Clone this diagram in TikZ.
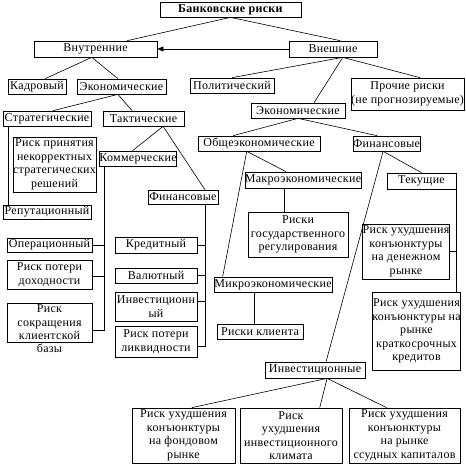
\documentclass[tikz,border=0pt]{standalone}
\usepackage{fontspec}
\setmainfont{Liberation Serif}[LetterSpace=2.5]
\usetikzlibrary{calc,arrows.meta}
\begin{document}
\begin{tikzpicture}[x=1pt,y=-1pt,
  bx/.style={draw, line width=0.7pt, inner sep=0pt, align=center, font=\fontsize{12}{13.5}\selectfont},
  sz/.style 2 args={minimum width=#1pt, minimum height=#2pt},
  ln/.style={line width=0.6pt}]
\useasboundingbox (0,0) rectangle (466,469);
\fill[white] (0,0) rectangle (466,469);
% nodes
\node[bx,sz={141}{15}] (top) at (230.5,9.5) {\textbf{Банковские риски}};
\node[bx,sz={123}{16}] (vnut) at (95.5,49) {Внутренние};
\node[bx,sz={88}{16}] (vnesh) at (333,49) {Внешние};
\node[bx,sz={58}{15}] (kadr) at (37,86.5) {Кадровый};
\node[bx,sz={89}{15}] (econL) at (121.5,86.5) {Экономические};
\node[bx,sz={84}{15}] (polit) at (232,85.5) {Политический};
\node[bx,sz={111}{32}] (proch) at (407.5,94) {Прочие риски\\(не прогнозируемые)};
\node[bx,sz={94}{15}] (econR) at (298,110.5) {Экономические};
\node[bx,sz={88}{15}] (strat) at (47,118.5) {Стратегические};
\node[bx,sz={81}{15}] (takt) at (143.5,118.5) {Тактические};
\node[bx,sz={122}{15}] (obshe) at (259,143.5) {Общеэкономические};
\node[bx,sz={67}{15}] (finR) at (386.5,143.5) {Финансовые};
\node[bx,sz={79}{55}] (risk1) at (54.5,164.5) {Риск принятия\\некорректных\\стратегических\\решений};
\node[bx,sz={72}{15}] (komm) at (138,158.5) {Коммерческие};
\node[bx,sz={70}{14}] (finM) at (183,197) {Финансовые};
\node[bx,sz={110}{16}] (makro) at (303,180) {Макроэкономические};
\node[bx,sz={69}{16}] (tek) at (421.5,181) {Текущие};
\node[bx,sz={88}{14}] (reput) at (47,212) {Репутационный};
\node[bx,sz={100}{45}] (gosreg) at (298,234.5) {Риски\\государственного\\регулирования};
\node[bx,sz={86}{55}] (den) at (406,251.5) {Риск ухудшения\\конъюнктуры\\на денежном\\рынке};
\node[bx,sz={85}{14}] (oper) at (49.5,245) {Операционный};
\node[bx,sz={82}{16}] (kred) at (156,245) {Кредитный};
\node[bx,sz={85}{29}] (dohod) at (49.5,274.5) {Риск потери\\доходности};
\node[bx,sz={82}{15}] (valut) at (156,275.5) {Валютный};
\node[bx,sz={118}{15}] (mikro) at (273,284.5) {Микроэкономические};
\node[bx,sz={82}{29}] (invest) at (156,306.5) {Инвестиционн\\ый};
\node[bx,sz={87}{78}] (kratk) at (416.5,331) {Риск ухудшения\\конъюнктуры на\\рынке\\краткосрочных\\кредитов};
\node[bx,sz={85}{39},label={[font=\fontsize{12}{13.5}\selectfont,inner sep=0pt,yshift=-1pt]below:базы}] (sokr) at (49.5,322.5) {Риск\\сокращения\\клиентской};
\node[bx,sz={82}{31}] (likv) at (156,341.5) {Риск потери\\ликвидности};
\node[bx,sz={86}{15}] (klient) at (260,331.5) {Риски клиента};
\node[bx,sz={100}{16}] (invs) at (315,370) {Инвестиционные};
\node[bx,sz={103}{55}] (b1) at (183.5,435.5) {Риск ухудшения\\конъюнктуры\\на фондовом\\рынке};
\node[bx,sz={102}{55}] (b2) at (291,435.5) {Риск\\ухудшения\\инвестиционного\\климата};
\node[bx,sz={111}{55}] (b3) at (404.5,435.5) {Риск ухудшения\\конъюнктуры\\на рынке\\ссудных капиталов};
% connectors
\draw[ln] (top.south) -- ($(vnut.north west)!.756!(vnut.north east)$);
\draw[ln] (top.south) -- ($(vnesh.north west)!.58!(vnesh.north east)$);
\draw[ln,-{Triangle[length=6pt,width=5pt]}] (vnesh.west) -- (vnut.east);
\coordinate (p1) at ($(vnut.south west)!.47!(vnut.south east)$);
\draw[ln] ($(kadr.north west)!.64!(kadr.north east)$) -- (p1) -- ($(econL.north west)!.46!(econL.north east)$);
\coordinate (e0) at ($(econL.south west)!.46!(econL.south east)$);
\draw[ln] ($(strat.north west)!.57!(strat.north east)$) -- (e0) -- ($(takt.north west)!.36!(takt.north east)$);
\coordinate (t1) at ($(takt.south west)!.74!(takt.south east)$);
\draw[ln] ($(komm.north west)!.43!(komm.north east)$) -- (t1) -- ($(finM.north west)!.81!(finM.north east)$);
\coordinate (s1) at ($(strat.south west)+(6,0)$);
\draw[ln] (s1) -- (s1 |- reput.north);
\coordinate (k1) at ($(komm.south west)+(5,0)$);
\draw[ln] (k1) |- ($(sokr.east)+(0,7.5)$);
\draw[ln] (oper.east) -- (oper.east -| k1);
\path (dohod.east) ++(0,2) coordinate (d1);
\draw[ln] (d1) -- (d1 -| k1);
\coordinate (f1) at ($(finM.south west)+(58,0)$);
\draw[ln] (f1) |- ($(likv.east)+(0,4.5)$);
\draw[ln] (kred.east) -- (kred.east -| f1);
\draw[ln] (valut.east) -- (valut.east -| f1);
\path (invest.east) ++(0,-5) coordinate (iv1);
\draw[ln] (iv1) -- (iv1 -| f1);
\coordinate (v1) at ($(vnesh.south west)!.61!(vnesh.south east)$);
\draw[ln] (polit.north) -- (v1) -- ($(proch.north west)!.61!(proch.north east)$);
\draw[ln] (v1) -- ($(econR.north west)!.67!(econR.north east)$);
\draw[ln] ($(obshe.north west)!.29!(obshe.north east)$) -- (econR.south) -- ($(finR.north west)!.36!(finR.north east)$);
\coordinate (o1) at ($(obshe.south west)!.40!(obshe.south east)$);
\draw[ln] ($(makro.north west)!.355!(makro.north east)$) -- (o1) -- ($(mikro.north west)!.076!(mikro.north east)$);
\coordinate (m1) at ($(makro.south west)+(40,0)$);
\draw[ln] (m1) -- (m1 |- gosreg.north);
\coordinate (m2) at ($(mikro.south west)+(41,0)$);
\draw[ln] (m2) -- (m2 |- klient.north);
\coordinate (r1) at ($(finR.south west)!.45!(finR.south east)$);
\draw[ln] (tek.north) -- (r1) -- ($(invs.north west)!.61!(invs.north east)$);
\draw[ln] (tek.south east) -- (tek.south east |- kratk.north);
\draw[ln] (den.east) -- (den.east -| tek.south east);
\coordinate (i1) at ($(invs.south west)!.62!(invs.south east)$);
\draw[ln] ($(b1.north west)!.58!(b1.north east)$) -- (i1) -- ($(b3.north west)!.34!(b3.north east)$);
\draw[ln] (i1) -- ($(b2.north west)!.78!(b2.north east)$);
\end{tikzpicture}
\end{document}
